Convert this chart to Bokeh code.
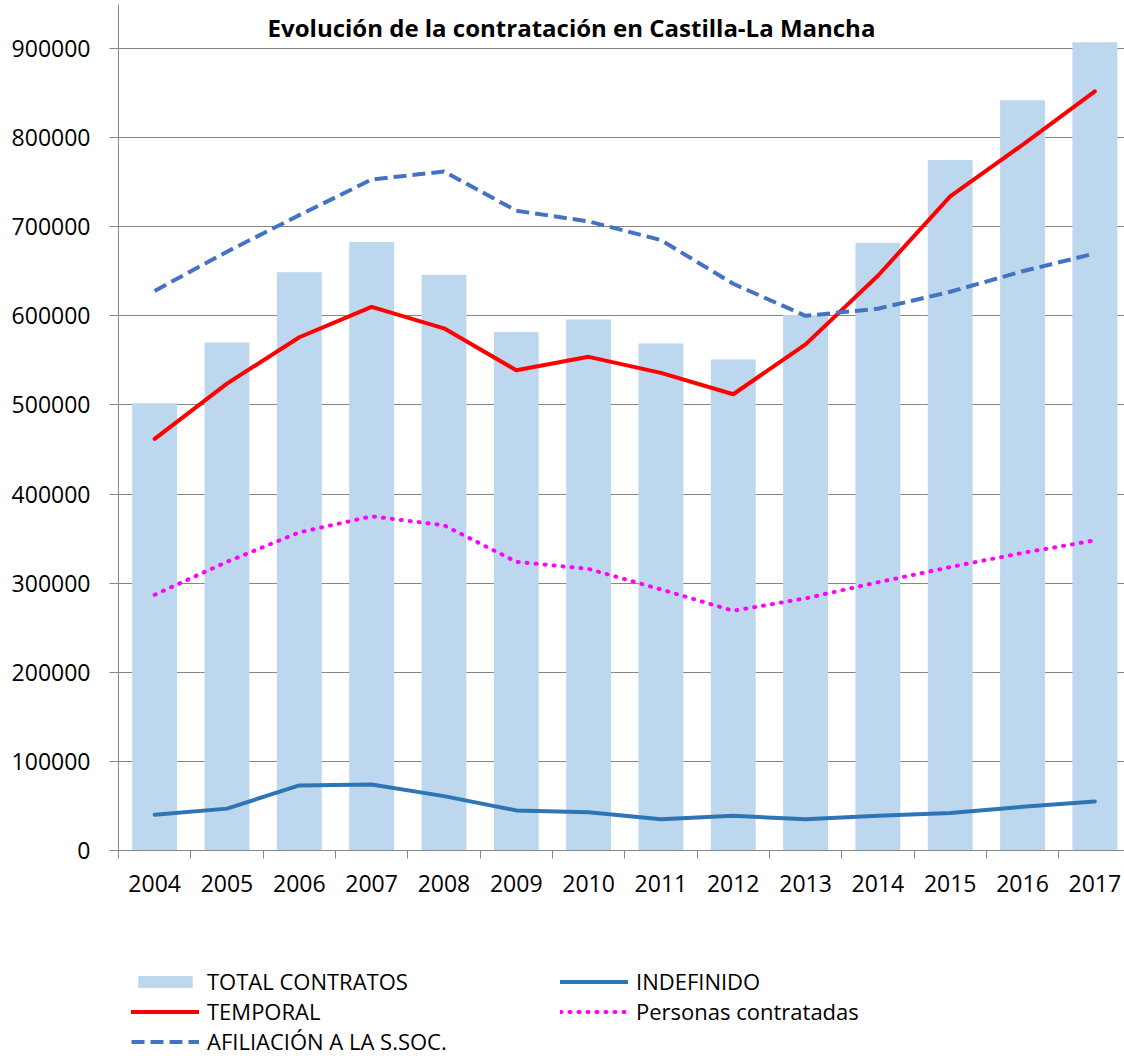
import numpy as np
from bokeh.plotting import figure
from bokeh.layouts import column
from bokeh.models import (Range1d, FixedTicker, Legend, LegendItem, Label,
                          ColumnDataSource, BasicTickFormatter)
from bokeh.embed import file_html
from bokeh.resources import INLINE

years = ["2004", "2005", "2006", "2007", "2008", "2009", "2010",
         "2011", "2012", "2013", "2014", "2015", "2016", "2017"]
total_contratos = [502000, 570000, 649000, 683000, 646000, 582000, 596000,
                   569000, 551000, 601000, 682000, 775000, 842000, 907000]
indefinido = [40000, 47000, 73000, 74000, 61000, 45000, 43000,
              35000, 39000, 35000, 39000, 42000, 49000, 55000]
temporal = [462000, 524000, 576000, 610000, 586000, 539000, 554000,
            536000, 512000, 568000, 645000, 734000, 792000, 852000]
personas = [287000, 324000, 357000, 375000, 365000, 324000, 316000,
            293000, 269000, 283000, 301000, 318000, 334000, 348000]
afiliacion = [628000, 672000, 713000, 753000, 762000, 718000, 706000,
              685000, 636000, 600000, 608000, 627000, 650000, 670000]
y_ticks = [0, 100000, 200000, 300000, 400000, 500000, 600000, 700000, 800000, 900000]
title_text = "Evolución de la contratación en Castilla-La Mancha"

FONT = "Open Sans"
GRAY = "#868686"

STY_TOTAL = dict(fill_color="#BDD7EE", line_color="#BDD7EE", line_width=0)
STY_INDEF = dict(line_color="#2E75B6", line_width=4, line_join="round", line_cap="round")
STY_TEMP = dict(line_color="#FF0000", line_width=4, line_join="round", line_cap="round")
STY_PERS = dict(line_color="#FF00FF", line_width=4, line_dash="1 8",
                line_cap="round", line_join="round")
STY_AFIL = dict(line_color="#4472C4", line_width=4, line_dash="13 6", line_join="round")

n = len(years)
xc = np.arange(n) + 0.5
src = ColumnDataSource(dict(x=xc, total=total_contratos, indef=indefinido,
                            temp=temporal, pers=personas, afil=afiliacion))

p = figure(width=1124, height=905, output_backend="svg", toolbar_location=None,
           x_range=Range1d(0, 13.91), y_range=Range1d(0, 949400),
           min_border_left=118, min_border_right=0, min_border_top=4,
           min_border_bottom=55)
p.outline_line_color = None
p.background_fill_color = "white"

p.vbar(x="x", top="total", width=0.62, source=src, **STY_TOTAL)
p.line("x", "indef", source=src, **STY_INDEF)
p.line("x", "temp", source=src, **STY_TEMP)
p.line("x", "pers", source=src, **STY_PERS)
p.line("x", "afil", source=src, **STY_AFIL)

# x axis: labels at category centers, tick marks at category boundaries
p.xaxis.ticker = FixedTicker(ticks=list(xc), minor_ticks=list(range(n + 1)))
p.xaxis.major_label_overrides = {float(c): y for c, y in zip(xc, years)}
p.xaxis.major_tick_line_color = None
p.xaxis.major_tick_out = 8
p.xaxis.minor_tick_out = 8
p.xaxis.minor_tick_in = 0
p.xaxis.minor_tick_line_color = GRAY
p.xaxis.axis_line_color = GRAY
p.xaxis.major_label_text_font = FONT
p.xaxis.major_label_text_font_size = "23px"
p.xaxis.major_label_text_color = "black"
p.xaxis.major_label_standoff = 16

p.yaxis.ticker = FixedTicker(ticks=y_ticks)
p.yaxis.formatter = BasicTickFormatter(use_scientific=False)
p.yaxis.major_tick_out = 9
p.yaxis.major_tick_in = 0
p.yaxis.major_tick_line_color = GRAY
p.yaxis.minor_tick_line_color = None
p.yaxis.axis_line_color = GRAY
p.yaxis.major_label_text_font = FONT
p.yaxis.major_label_text_font_size = "23px"
p.yaxis.major_label_text_color = "black"
p.yaxis.major_label_standoff = 19

p.xgrid.grid_line_color = None
p.ygrid.ticker = FixedTicker(ticks=y_ticks[1:])
p.ygrid.grid_line_color = GRAY
p.ygrid.grid_line_width = 1

p.add_layout(Label(x=453, y=823, x_units="screen", y_units="screen",
                   text=title_text, text_font=FONT, text_font_style="bold",
                   text_font_size="24px", text_align="center",
                   text_baseline="middle", text_color="black"))

# legend panel below the chart; proxy renderers use the same data but lie
# outside this panel's ranges, so only their legend glyphs are visible
lg = figure(width=1124, height=151, output_backend="svg", toolbar_location=None,
            x_axis_type=None, y_axis_type=None,
            x_range=Range1d(-2, -1), y_range=Range1d(-2, -1),
            min_border_left=118, min_border_right=0, min_border_top=0,
            min_border_bottom=0)
lg.outline_line_color = None
lg.xgrid.grid_line_color = None
lg.ygrid.grid_line_color = None
l_total = lg.vbar(x="x", top="total", bottom="total", width=0.62, source=src, **STY_TOTAL)
l_indef = lg.line("x", "indef", source=src, **STY_INDEF)
l_temp = lg.line("x", "temp", source=src, **STY_TEMP)
l_pers = lg.line("x", "pers", source=src, **STY_PERS)
l_afil = lg.line("x", "afil", source=src, **STY_AFIL)

items = [
    LegendItem(label="TOTAL CONTRATOS", renderers=[l_total]),
    LegendItem(label="TEMPORAL", renderers=[l_temp]),
    LegendItem(label="AFILIACIÓN A LA S.SOC.", renderers=[l_afil]),
    LegendItem(label="INDEFINIDO", renderers=[l_indef]),
    LegendItem(label="Personas contratadas", renderers=[l_pers]),
]
legend = Legend(items=items, orientation="vertical", nrows=3,
                location=(13, 0), padding=0, spacing=-1, margin=0,
                glyph_width=68, glyph_height=15, label_height=29,
                label_width=353, label_standoff=8,
                label_text_font=FONT, label_text_font_size="22px",
                label_text_color="black", label_text_baseline="middle",
                border_line_alpha=0, background_fill_alpha=0)
lg.add_layout(legend, "center")

layout = column(p, lg, spacing=0)
open("out.html", "w").write(file_html(layout, INLINE))
